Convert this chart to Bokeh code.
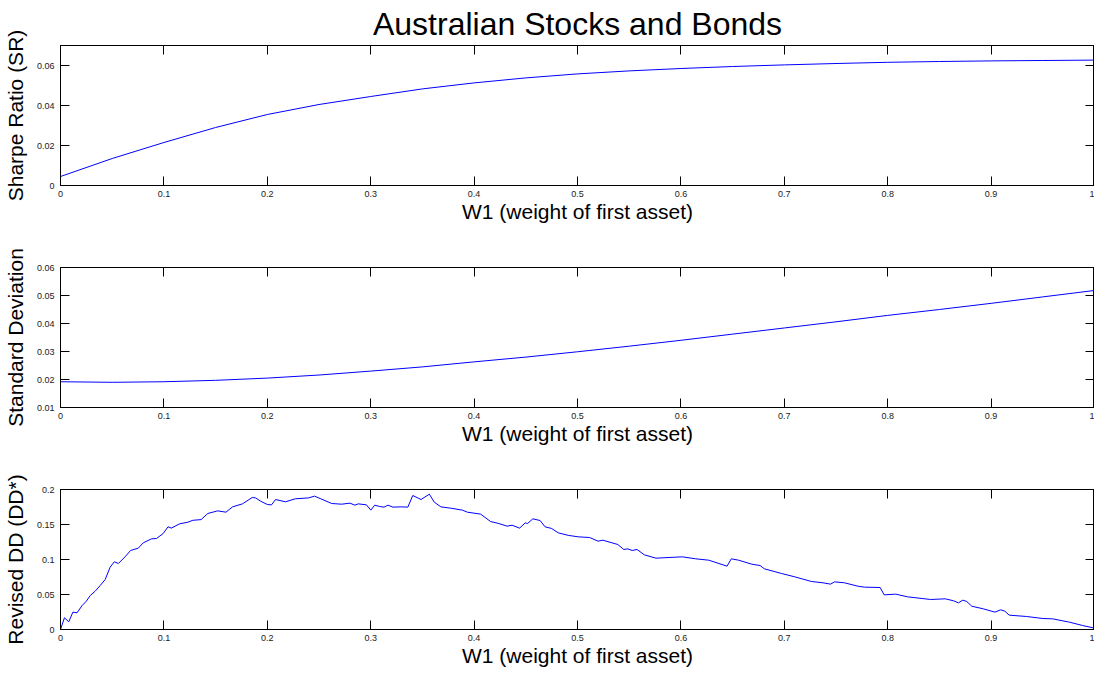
from bokeh.plotting import figure
from bokeh.models import Range1d, LinearAxis, FixedTicker, CustomJSTickFormatter
from bokeh.layouts import column
from bokeh.embed import file_html
from bokeh.resources import INLINE

TITLE = "Australian Stocks and Bonds"
X_LABEL = "W1 (weight of first asset)"
Y_LABEL_SR = "Sharpe Ratio (SR)"
Y_LABEL_SD = "Standard Deviation"
Y_LABEL_DD = "Revised DD (DD*)"

x_ticks = [0, 0.1, 0.2, 0.3, 0.4, 0.5, 0.6, 0.7, 0.8, 0.9, 1]
y_ticks_sr = [0, 0.02, 0.04, 0.06]
y_ticks_sd = [0.01, 0.02, 0.03, 0.04, 0.05, 0.06]
y_ticks_dd = [0, 0.05, 0.1, 0.15, 0.2]

# Sharpe ratio vs W1
sr_w = [0, 0.05, 0.1, 0.15, 0.2, 0.25, 0.3, 0.35, 0.4, 0.45, 0.5,
        0.55, 0.6, 0.65, 0.7, 0.75, 0.8, 0.85, 0.9, 0.95, 1.0]
sr_vals = [0.0045, 0.0135, 0.0215, 0.0290, 0.0355, 0.0405, 0.0445, 0.0483, 0.0513, 0.0538, 0.0558,
           0.0573, 0.0585, 0.0595, 0.0603, 0.0610, 0.0616, 0.0620, 0.0623, 0.0625, 0.0627]

# Standard deviation vs W1
sd_w = [0, 0.05, 0.1, 0.15, 0.2, 0.25, 0.3, 0.35, 0.4, 0.45, 0.5,
        0.55, 0.6, 0.65, 0.7, 0.75, 0.8, 0.85, 0.9, 0.95, 1.0]
sd_vals = [0.0192, 0.0190, 0.0192, 0.0197, 0.0205, 0.0216, 0.0230, 0.0245, 0.0263, 0.0280, 0.0299,
           0.0319, 0.0340, 0.0362, 0.0384, 0.0406, 0.0429, 0.0450, 0.0472, 0.0495, 0.0518]

# Revised drawdown vs W1
dd_w = [0, 0.0038, 0.008, 0.012, 0.016, 0.0208, 0.025, 0.0288, 0.0336, 0.0384,
        0.0432, 0.048, 0.052, 0.056, 0.0624, 0.0678, 0.0752, 0.08, 0.088, 0.0928,
        0.0992, 0.104, 0.1072, 0.1152, 0.1232, 0.128, 0.136, 0.1424, 0.152, 0.16,
        0.1664, 0.176, 0.1855, 0.1887, 0.1935, 0.2, 0.204, 0.208, 0.2175, 0.2271,
        0.2399, 0.2457, 0.2511, 0.2623, 0.2719, 0.2799, 0.2847, 0.2879, 0.2959, 0.3001,
        0.3039, 0.3087, 0.3129, 0.3167, 0.3215, 0.3295, 0.3359, 0.3407, 0.3487, 0.3567,
        0.3615, 0.3679, 0.3775, 0.3887, 0.3935, 0.4063, 0.4159, 0.4239, 0.4319, 0.4367,
        0.444, 0.4495, 0.4517, 0.4568, 0.4638, 0.4686, 0.475, 0.4814, 0.491, 0.5006,
        0.5118, 0.5198, 0.5246, 0.539, 0.5448, 0.5486, 0.5528, 0.5576, 0.5646, 0.5758,
        0.6014, 0.6142, 0.627, 0.6446, 0.6488, 0.6558, 0.6686, 0.6766, 0.6807, 0.6974,
        0.7102, 0.7262, 0.7374, 0.7447, 0.7486, 0.7582, 0.771, 0.7774, 0.7927, 0.7966,
        0.8078, 0.819, 0.8414, 0.8557, 0.8637, 0.8685, 0.8727, 0.8765, 0.8813, 0.8925,
        0.9037, 0.9092, 0.9133, 0.9175, 0.9341, 0.9501, 0.9597, 0.9757, 0.9885, 1.0]
dd_vals = [0, 0.0167, 0.011, 0.0248, 0.0238, 0.034, 0.0405, 0.0486, 0.0548, 0.0629,
           0.0714, 0.089, 0.0967, 0.0943, 0.1038, 0.1129, 0.1162, 0.1238, 0.1295, 0.13,
           0.137, 0.1467, 0.1448, 0.151, 0.1533, 0.156, 0.157, 0.1657, 0.1695, 0.1676,
           0.1752, 0.1795, 0.1886, 0.188, 0.1833, 0.1786, 0.178, 0.1857, 0.1824, 0.1867,
           0.188, 0.1905, 0.1871, 0.18, 0.179, 0.1805, 0.1776, 0.1795, 0.1781, 0.1705,
           0.1776, 0.1757, 0.1748, 0.1776, 0.1748, 0.1752, 0.1748, 0.1914, 0.1857, 0.1933,
           0.1819, 0.1752, 0.1733, 0.1705, 0.1676, 0.1648, 0.1543, 0.1514, 0.1476, 0.149,
           0.1448, 0.1524, 0.1514, 0.1581, 0.1557, 0.1467, 0.1443, 0.1381, 0.1345, 0.1324,
           0.1314, 0.1262, 0.1276, 0.1214, 0.1143, 0.1152, 0.1129, 0.1143, 0.1067, 0.1019,
           0.1038, 0.101, 0.099, 0.0905, 0.101, 0.099, 0.0933, 0.0914, 0.0867, 0.08,
           0.0752, 0.0686, 0.0667, 0.0648, 0.0681, 0.0667, 0.0619, 0.0605, 0.06, 0.0495,
           0.0505, 0.0467, 0.0429, 0.0438, 0.041, 0.0381, 0.0419, 0.04, 0.0333, 0.0295,
           0.0248, 0.0281, 0.0262, 0.0205, 0.0186, 0.0157, 0.0152, 0.0105, 0.0057, 0.002]

FONT = "Liberation Sans"
FMT_CODE = "return String(parseFloat(tick.toPrecision(8)));"


def make_panel(xs, ys, y_range, y_ticks, y_label, top, bottom, title=None):
    p = figure(frame_width=1034, frame_height=140,
               x_range=Range1d(0, 1), y_range=Range1d(*y_range),
               output_backend="svg", toolbar_location=None,
               min_border_left=0, min_border_right=0,
               min_border_top=top, min_border_bottom=bottom,
               title=title)
    p.background_fill_color = "white"
    p.border_fill_color = "white"
    p.outline_line_color = "black"
    p.outline_line_width = 1
    p.xgrid.visible = False
    p.ygrid.visible = False
    if title is not None:
        p.title.text_font = FONT
        p.title.text_font_size = "32px"
        p.title.text_font_style = "normal"
        p.title.text_color = "black"
        p.title.align = "center"
        p.title.standoff = 7

    p.line(xs, ys, line_color="#0000ff", line_width=1)

    xa = p.xaxis[0]
    xa.ticker = FixedTicker(ticks=x_ticks)
    xa.formatter = CustomJSTickFormatter(code=FMT_CODE)
    xa.axis_label = X_LABEL
    ya = p.yaxis[0]
    ya.ticker = FixedTicker(ticks=y_ticks)
    ya.formatter = CustomJSTickFormatter(code=FMT_CODE)
    ya.axis_label = y_label

    for ax in (xa, ya):
        ax.major_tick_in = 9
        ax.major_tick_out = 0
        ax.minor_tick_line_color = None
        ax.major_tick_line_color = "black"
        ax.axis_line_color = "black"
        ax.major_label_text_font = FONT
        ax.major_label_text_font_size = "9px"
        ax.major_label_text_color = "#1a1a1a"
        ax.axis_label_text_font = FONT
        ax.axis_label_text_font_size = "21px"
        ax.axis_label_text_font_style = "normal"
        ax.axis_label_text_color = "black"
    xa.major_label_standoff = 5
    xa.axis_label_standoff = 0
    ya.major_label_standoff = 6
    ya.axis_label_standoff = 7

    # mirrored ticks on the top and right edges (box style)
    for loc, ticks in (("above", x_ticks), ("right", y_ticks)):
        ax = LinearAxis(ticker=FixedTicker(ticks=ticks),
                        formatter=CustomJSTickFormatter(code="return '';"),
                        major_tick_in=9, major_tick_out=0,
                        minor_tick_line_color=None,
                        major_tick_line_color="black",
                        axis_line_color="black",
                        major_label_standoff=0,
                        major_label_text_font_size="0px")
        p.add_layout(ax, loc)
    return p


p1 = make_panel(sr_w, sr_vals, (0, 0.07), y_ticks_sr, Y_LABEL_SR, 0, 41, title=TITLE)
p2 = make_panel(sd_w, sd_vals, (0.01, 0.06), y_ticks_sd, Y_LABEL_SD, 41, 41)
p3 = make_panel(dd_w, dd_vals, (0, 0.2), y_ticks_dd, Y_LABEL_DD, 41, 0)

layout = column(p1, p2, p3)
open("out.html", "w").write(file_html(layout, INLINE))
